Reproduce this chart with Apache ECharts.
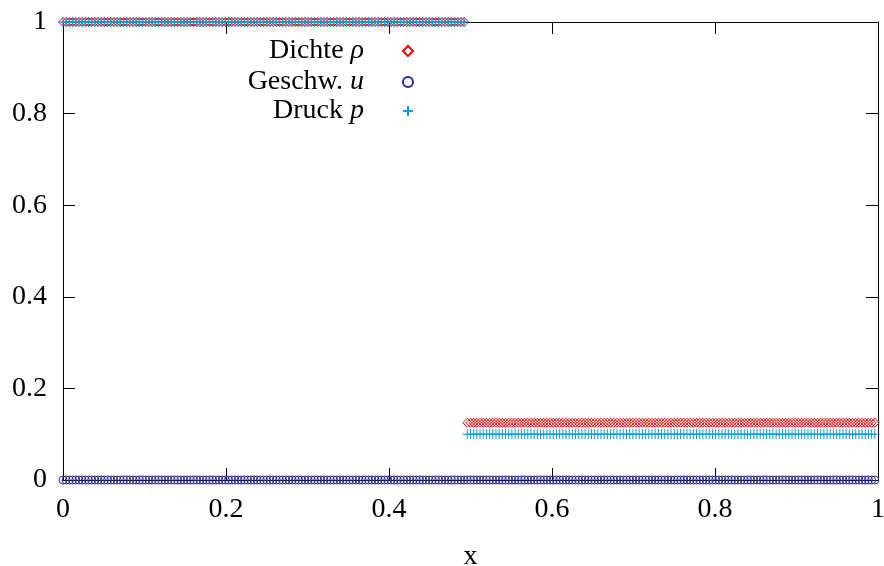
<!DOCTYPE html>
<html>
<head>
<meta charset="utf-8">
<script src="https://cdn.jsdelivr.net/npm/echarts@6/dist/echarts.min.js"></script>
<style>html,body{margin:0;padding:0;background:#fff}#c{width:884px;height:566px}</style>
</head>
<body>
<div id="c"></div>
<script>
// Sod shock tube initial state sampled on a uniform grid
var nPoints = 256;              // grid points at x = i/256
var splitIndex = 127;           // first index belonging to the right state
var rhoLeftRight = [1, 0.125];  // Dichte
var uLeftRight = [0, 0];        // Geschwindigkeit
var pLeftRight = [1, 0.1];      // Druck
var xTicks = [0, 0.2, 0.4, 0.6, 0.8, 1];
var yTicks = [0, 0.2, 0.4, 0.6, 0.8, 1];
var legendNames = ['Dichte', 'Geschw.', 'Druck'];
var legendVars = ['ρ', 'u', 'p'];

function build(lr) {
  var out = [];
  for (var i = 0; i < nPoints; i++) {
    var x = i / nPoints;
    out.push([x, i < splitIndex ? lr[0] : lr[1]]);
  }
  return out;
}
var rhoData = build(rhoLeftRight);
var uData = build(uLeftRight);
var pData = build(pLeftRight);

var FONT = 'Liberation Serif';
var FS = 28;
var seriesNames = ['rho', 'u', 'p'];

function legendFor(i, top) {
  return {
    data: [seriesNames[i]],
    orient: 'vertical',
    align: 'right',
    right: 470,
    top: top,
    padding: 0,
    itemWidth: 10,
    itemHeight: 10,
    selectedMode: false,
    formatter: function () { return '{a|' + legendNames[i] + ' }{b|' + legendVars[i] + '}'; },
    textStyle: {
      fontFamily: FONT, fontSize: FS, color: '#000',
      rich: {
        a: {fontFamily: FONT, fontSize: FS, color: '#000'},
        b: {fontFamily: FONT, fontSize: FS, fontStyle: 'italic', color: '#000', padding: [0, 34, 0, 0]}
      }
    }
  };
}

function axisBase() {
  return {
    type: 'value', min: 0, max: 1, interval: 0.2,
    axisLine: {show: true, onZero: false, lineStyle: {color: '#000', width: 1}},
    axisTick: {show: true, inside: true, length: 12, lineStyle: {color: '#000', width: 1}},
    splitLine: {show: false}
  };
}

var chart = echarts.init(document.getElementById('c'), null, {renderer: 'canvas'});
chart.setOption({
  animation: false,
  backgroundColor: '#fff',
  grid: {left: 63, right: 6, top: 22, bottom: 86, containLabel: false, outerBoundsMode: 'none'},
  legend: [legendFor(0, 37), legendFor(1, 68), legendFor(2, 97)],
  xAxis: [
    Object.assign(axisBase(), {
      position: 'bottom',
      name: 'x', nameLocation: 'middle', nameGap: 63, nameMoveOverlap: false,
      nameTextStyle: {fontFamily: FONT, fontSize: FS, color: '#000'},
      axisLabel: {margin: 16, fontFamily: FONT, fontSize: FS, color: '#000',
        formatter: function (v) { return String(xTicks[Math.round(v / 0.2)]); }}
    }),
    Object.assign(axisBase(), {position: 'top', axisLabel: {show: false}})
  ],
  yAxis: [
    Object.assign(axisBase(), {
      position: 'left',
      axisLabel: {margin: 16, fontFamily: FONT, fontSize: FS, color: '#000',
        formatter: function (v) { return String(yTicks[Math.round(v / 0.2)]); }}
    }),
    Object.assign(axisBase(), {position: 'right', axisLabel: {show: false}})
  ],
  series: [
    {
      name: 'rho', type: 'scatter', data: rhoData,
      symbol: 'diamond', symbolSize: 9,
      itemStyle: {color: 'rgba(0,0,0,0)', borderColor: '#ff0000', borderWidth: 1, opacity: 1}
    },
    {
      name: 'u', type: 'scatter', data: uData,
      symbol: 'circle', symbolSize: 8,
      itemStyle: {color: 'rgba(0,0,0,0)', borderColor: '#2b2b95', borderWidth: 1, opacity: 1}
    },
    {
      name: 'p', type: 'scatter', data: pData,
      symbol: 'path://M0,5L10,5M5,0L5,10', symbolSize: 10,
      itemStyle: {color: 'rgba(0,0,0,0)', borderColor: '#00a0e6', borderWidth: 1, opacity: 1}
    }
  ]
});
</script>
</body>
</html>
